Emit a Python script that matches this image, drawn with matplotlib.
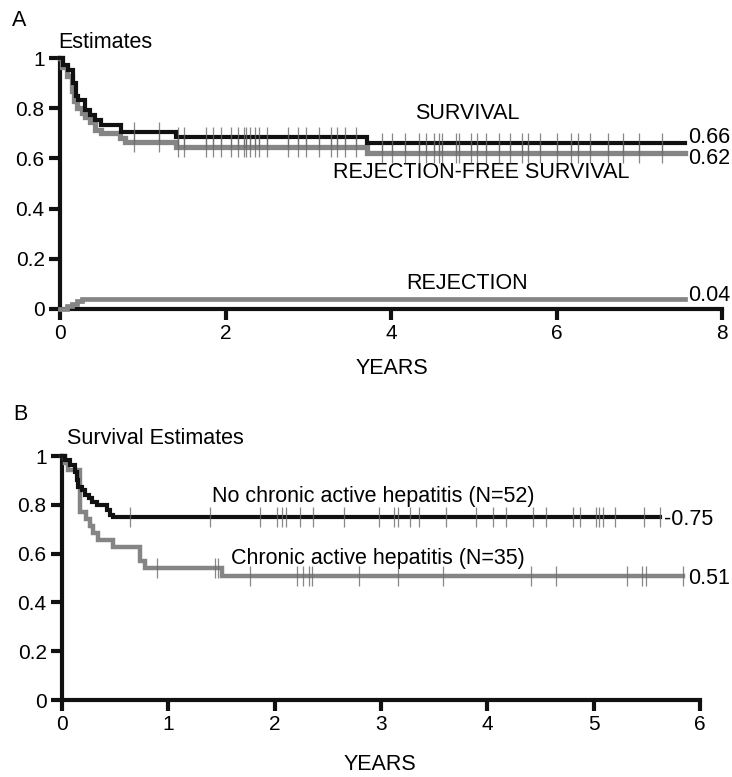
import numpy as np
import matplotlib
matplotlib.use("Agg")
import matplotlib.pyplot as plt

plt.rcParams['font.family'] = ['Liberation Sans', 'DejaVu Sans']

# Panel A: overall estimates (years, probability)
surv_t = [0, 0.04, 0.10, 0.16, 0.19, 0.22, 0.30, 0.36, 0.42, 0.50, 0.74, 1.40, 3.71, 7.55]
surv_s = [1.0, 0.972, 0.952, 0.90, 0.85, 0.832, 0.792, 0.772, 0.752, 0.732, 0.705, 0.685, 0.66, 0.66]
rfs_t = [0, 0.03, 0.08, 0.14, 0.17, 0.21, 0.26, 0.30, 0.36, 0.42, 0.50, 0.72, 0.78, 1.40, 3.71, 7.55]
rfs_s = [1.0, 0.965, 0.93, 0.87, 0.83, 0.80, 0.78, 0.765, 0.745, 0.712, 0.70, 0.68, 0.665, 0.645, 0.62, 0.62]
rej_t = [0, 0.08, 0.14, 0.20, 0.26, 7.55]
rej_s = [0, 0.01, 0.02, 0.03, 0.04, 0.04]
cens_a = [0.9, 1.2, 1.43, 1.5, 1.76, 1.85, 1.95, 2.07, 2.15, 2.22, 2.25, 2.3, 2.36, 2.4,
          2.5, 2.76, 2.88, 2.97, 3.13, 3.27, 3.35, 3.45, 3.58, 3.89, 4.01, 4.17, 4.34,
          4.42, 4.52, 4.58, 4.62, 4.79, 4.82, 4.97, 5.04, 5.15, 5.3, 5.44, 5.58, 5.66,
          5.8, 6.0, 6.18, 6.26, 6.4, 6.62, 6.8, 7.0, 7.27]

# Panel B: survival by chronic active hepatitis
nocah_t = [0, 0.03, 0.075, 0.12, 0.14, 0.155, 0.185, 0.216, 0.25, 0.28, 0.33, 0.42, 0.45, 0.48, 5.62]
nocah_s = [1.0, 0.985, 0.965, 0.935, 0.90, 0.875, 0.86, 0.84, 0.827, 0.813, 0.80, 0.78, 0.76, 0.75, 0.75]
cah_t = [0, 0.03, 0.06, 0.17, 0.23, 0.26, 0.295, 0.34, 0.48, 0.73, 0.78, 1.50, 5.84]
cah_s = [1.0, 0.971, 0.943, 0.771, 0.743, 0.714, 0.686, 0.657, 0.629, 0.571, 0.543, 0.51, 0.51]
nocah_cens = [0.64, 1.39, 1.86, 2.02, 2.07, 2.11, 2.24, 2.36, 2.65, 2.98, 3.12, 3.16, 3.27,
              3.36, 3.61, 3.89, 4.05, 4.18, 4.43, 4.55, 4.81, 4.87, 5.02, 5.05, 5.09, 5.2,
              5.47, 5.62]
cah_cens = [0.89, 1.44, 1.47, 1.77, 2.21, 2.27, 2.32, 2.35, 2.79, 3.16, 3.58, 4.41, 4.65,
            5.31, 5.45, 5.49, 5.84]

yticks = [0, 0.2, 0.4, 0.6, 0.8, 1]
ytick_labels = ['0', '0.2', '0.4', '0.6', '0.8', '1']

BLACK = '#111111'
GREY = '#858585'
FS = 15.5


def step_at(t, s, x):
    idx = np.searchsorted(t, x, side='right') - 1
    return np.asarray(s)[idx]


def km(ax, t, s, cens, color, lw, z):
    ax.step(t, s, where='post', color=color, lw=lw, solid_joinstyle='miter',
            clip_on=False, zorder=z)
    if cens is not None:
        ax.plot(cens, step_at(t, s, cens), ls='none', marker='|', ms=14, mew=0.9,
                color='#6a6a6a', alpha=0.8, clip_on=False, zorder=z + 1)


def style(ax, xmax, xticks, label_y, label_x=0.5):
    for side in ['top', 'right']:
        ax.spines[side].set_visible(False)
    for side in ['left', 'bottom']:
        ax.spines[side].set_linewidth(3.0)
        ax.spines[side].set_color(BLACK)
    ax.set_xlim(0, xmax)
    ax.set_ylim(0, 1)
    ax.set_xticks(xticks)
    ax.set_yticks(yticks)
    ax.set_yticklabels(ytick_labels)
    ax.tick_params(direction='out', length=8, width=3.0, labelsize=15, pad=3,
                   color=BLACK)
    ax.set_xlabel('YEARS', fontsize=FS, va='center')
    ax.xaxis.set_label_coords(label_x, label_y)


fig = plt.figure(figsize=(7.32, 7.77), dpi=100)
W, H = 732, 777

# ---- Panel A ----
axA = fig.add_axes([60 / W, 1 - 309 / H, (722 - 60) / W, (309 - 58) / H])
style(axA, 8, [0, 2, 4, 6, 8], (309 - 368) / 251, (392 - 60) / 662)
km(axA, rfs_t, rfs_s, cens_a, GREY, 3.8, 3)
km(axA, surv_t, surv_s, cens_a, BLACK, 3.0, 5)
km(axA, rej_t, rej_s, None, GREY, 3.4, 3)

axA.text(4.92, 0.78, 'SURVIVAL', fontsize=FS, ha='center', va='center')
axA.text(5.09, 0.545, 'REJECTION-FREE SURVIVAL', fontsize=FS, ha='center', va='center')
axA.text(4.92, 0.10, 'REJECTION', fontsize=FS, ha='center', va='center')
axA.text(7.59, surv_s[-1] + 0.025, f'{surv_s[-1]:.2f}', fontsize=FS, va='center', clip_on=False)
axA.text(7.59, rfs_s[-1] - 0.02, f'{rfs_s[-1]:.2f}', fontsize=FS, va='center', clip_on=False)
axA.text(7.59, rej_s[-1] + 0.012, f'{rej_s[-1]:.2f}', fontsize=FS, va='center', clip_on=False)

fig.text(12 / W, 1 - 20 / H, 'A', fontsize=FS, va='center')
fig.text(58 / W, 1 - 42 / H, 'Estimates', fontsize=FS, va='center')

# ---- Panel B ----
axB = fig.add_axes([62 / W, 1 - 700 / H, (700 - 62) / W, (700 - 456) / H])
style(axB, 6, [0, 1, 2, 3, 4, 5, 6], (700 - 765) / 244, (380 - 62) / 638)
km(axB, cah_t, cah_s, cah_cens, GREY, 3.2, 3)
km(axB, nocah_t, nocah_s, nocah_cens, BLACK, 3.0, 5)

axB.text(2.93, 0.833, 'No chronic active hepatitis (N=52)', fontsize=FS,
         ha='center', va='center')
axB.text(2.97, 0.58, 'Chronic active hepatitis (N=35)', fontsize=FS,
         ha='center', va='center')
axB.text(5.66, nocah_s[-1] - 0.01, f'-{nocah_s[-1]:.2f}', fontsize=FS, va='center',
         clip_on=False)
axB.text(5.89, cah_s[-1] - 0.01, f'{cah_s[-1]:.2f}', fontsize=FS, va='center',
         clip_on=False)

fig.text(13 / W, 1 - 415 / H, 'B', fontsize=FS, va='center')
fig.text(67 / W, 1 - 438 / H, 'Survival Estimates', fontsize=FS, va='center')

fig.savefig('out.png', dpi=100)
